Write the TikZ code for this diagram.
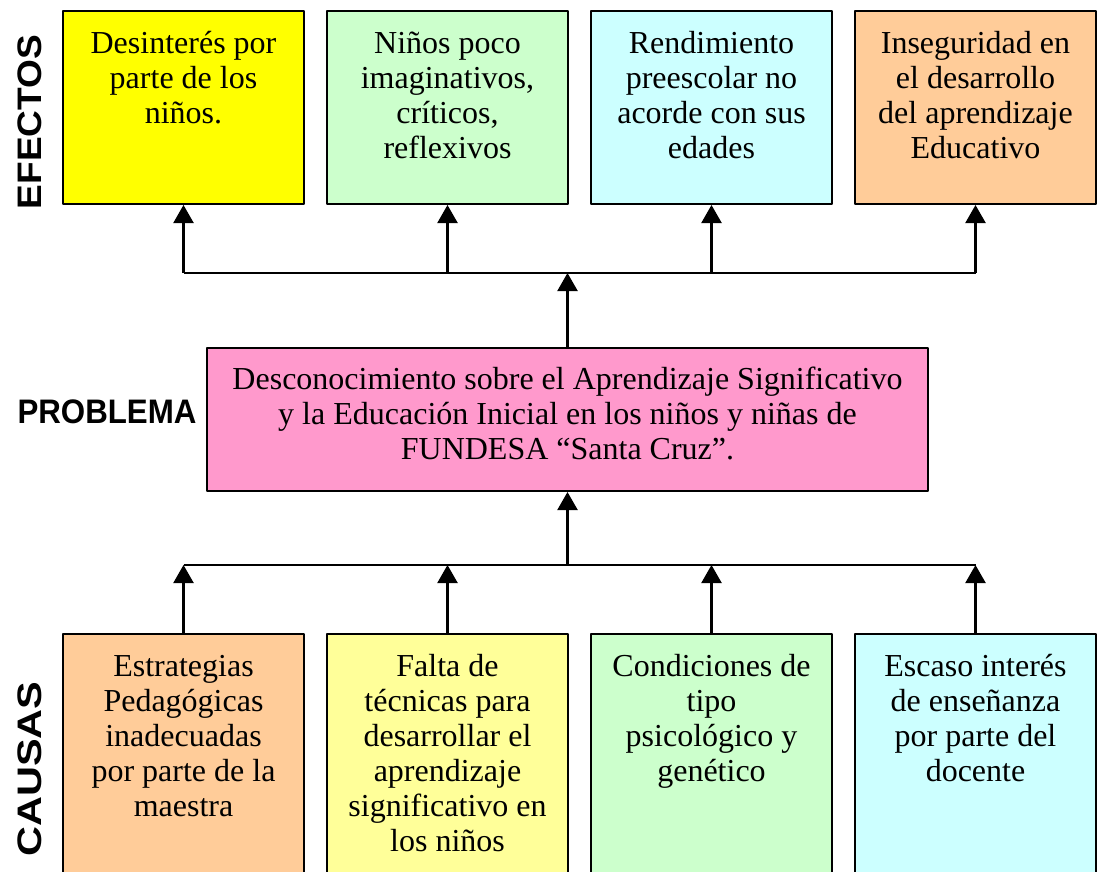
\documentclass[tikz,border=0pt]{standalone}
\usepackage{fontspec}
\setmainfont{Liberation Serif}
\setsansfont{Liberation Sans}
\usetikzlibrary{arrows.meta}
\definecolor{amarillo}{HTML}{FFFF00}
\definecolor{verdeclaro}{HTML}{CCFFCC}
\definecolor{celeste}{HTML}{CCFFFF}
\definecolor{durazno}{HTML}{FFCC99}
\definecolor{rosa}{HTML}{FF99CC}
\definecolor{crema}{HTML}{FFFF99}
% texto de cada cuadro, pegado arriba
\newcommand{\cuadro}[3]{\parbox[c][#1][t]{#2}{\centering\vspace*{18pt}\strut#3}}
\newcommand{\rotulo}[2]{\scalebox{#1}[1]{\bfseries\sffamily\fontsize{34}{36}\selectfont #2}}
\begin{document}
\begin{tikzpicture}[x=1pt,y=-1pt,line join=round,
  caja/.style={draw,line width=2pt,inner sep=0pt,anchor=north west,font=\fontsize{32}{35}\selectfont},
  flecha/.style={line width=2.2pt,-{Triangle[length=18pt,width=20pt]}},
  linea/.style={line width=2.2pt}]
\useasboundingbox (0,0) rectangle (1098,872);
\clip (0,0) rectangle (1098,872);
% efectos
\node[caja,fill=amarillo] (e1) at (62,10) {\cuadro{193pt}{241pt}{Desinterés por\\ parte de los\\ niños.}};
\node[caja,fill=verdeclaro] (e2) at (326,10) {\cuadro{193pt}{241pt}{Niños poco\\ imaginativos,\\ críticos,\\ reflexivos}};
\node[caja,fill=celeste] (e3) at (590,10) {\cuadro{193pt}{241pt}{Rendimiento\\ preescolar no\\ acorde con sus\\ edades}};
\node[caja,fill=durazno] (e4) at (854,10) {\cuadro{193pt}{241pt}{Inseguridad en\\ el desarrollo\\ del aprendizaje\\ Educativo}};
% problema
\node[caja,fill=rosa] (p) at (206,347) {\parbox[c][143pt][t]{721pt}{\centering\vspace*{17pt}\strut Desconocimiento sobre el Aprendizaje Significativo\\ y la Educación Inicial en los niños y niñas de\\ FUNDESA “Santa Cruz”.}};
% causas
\node[caja,fill=durazno] (c1) at (62,633) {\cuadro{270pt}{241pt}{Estrategias\\ Pedagógicas\\ inadecuadas\\ por parte de la\\ maestra}};
\node[caja,fill=crema] (c2) at (326,633) {\cuadro{270pt}{241pt}{Falta de\\ técnicas para\\ desarrollar el\\ aprendizaje\\ significativo en\\ los niños}};
\node[caja,fill=verdeclaro] (c3) at (590,633) {\cuadro{270pt}{241pt}{Condiciones de\\ tipo\\ psicológico y\\ genético}};
\node[caja,fill=celeste] (c4) at (854,633) {\cuadro{270pt}{241pt}{Escaso interés\\ de enseñanza\\ por parte del\\ docente}};
% rotulos
\node (efectos) at (30,122) [rotate=90] {\rotulo{1.09}{EFECTOS}};
\node (problema) at (107,412) {\rotulo{0.92}{PROBLEMA}};
\node (causas) at (30,769) [rotate=90] {\rotulo{1.22}{CAUSAS}};
% conectores
\path (p.north |- 0,273) coordinate (bs) (p.south |- 0,565) coordinate (bi);
\draw[flecha] (p.north) -- (bs);
\draw[linea] (e1.south |- bs) -- (e4.south |- bs);
\draw[flecha] (bi) -- (p.south);
\draw[linea] (c1.north |- bi) -- (c4.north |- bi);
\foreach \i in {1,...,4}{
  \draw[flecha] (e\i.south |- bs) -- (e\i.south);
  \draw[flecha] (c\i.north) -- (c\i.north |- bi);
}
\end{tikzpicture}
\end{document}
